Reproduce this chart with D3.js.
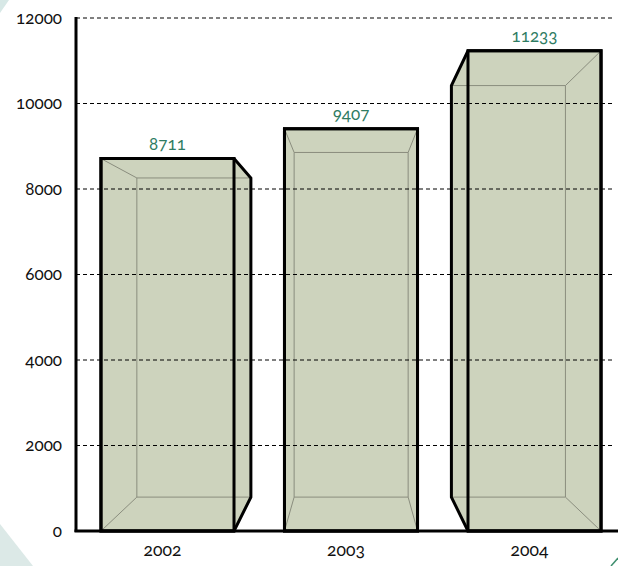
<!DOCTYPE html>
<html><head><meta charset="utf-8">
<script src="https://cdn.jsdelivr.net/npm/d3@7"></script>
<style>
html,body{margin:0;padding:0;background:#fff;}
svg{display:block;}
text{font-family:Lato,"Open Sans",sans-serif;font-variant-numeric:oldstyle-nums;font-feature-settings:"onum" 1;}
</style></head>
<body>
<svg id="chart" width="618" height="566"></svg>
<script>
const categories = ["2002", "2003", "2004"];
const values = [8711, 9407, 11233];
const yTicks = [0, 2000, 4000, 6000, 8000, 10000, 12000];

const W = 618, H = 566;
const svg = d3.select("#chart");

// background decorations
svg.append("polygon").attr("points", "0,0 9,0 0,13").attr("fill", "#d7e8e6");
svg.append("polygon").attr("points", "0,524 33,566 0,566").attr("fill", "#dce9e7");
svg.append("line").attr("x1", 611).attr("y1", 566).attr("x2", 618).attr("y2", 558)
  .attr("stroke", "#3f8f6f").attr("stroke-width", 1.5);

const x0 = 76, x1 = 626, yTop = 18, yBot = 531;
const x = d3.scaleBand().domain(categories).range([x0, x1]).paddingInner(0.275).paddingOuter(0.136);
const y = d3.scaleLinear().domain([0, 12000]).range([yBot, yTop]);

// perspective parameters
const vx = 352, vy = 294, depth = 0.857;
const back = p => [vx + depth * (p[0] - vx), vy + depth * (p[1] - vy)];

const barsG = svg.append("g");
const gridG = svg.append("g");
const outlineG = svg.append("g");

categories.forEach((c, i) => {
  const xl = x(c), xr = x(c) + x.bandwidth();
  const yt = y(values[i]), yb = y(0);
  const F = [[xl, yt], [xr, yt], [xr, yb], [xl, yb]];
  const B = F.map(back);
  const hull = d3.polygonHull(F.concat(B));
  barsG.append("polygon").attr("points", hull.map(p => p.join(",")).join(" "))
    .attr("fill", "#cdd3bd");
  // back face
  barsG.append("polygon").attr("points", B.map(p => p.join(",")).join(" "))
    .attr("fill", "none").attr("stroke", "#8a8d7e").attr("stroke-width", 1);
  F.forEach((p, k) => {
    barsG.append("line").attr("x1", p[0]).attr("y1", p[1]).attr("x2", B[k][0]).attr("y2", B[k][1])
      .attr("stroke", "#8a8d7e").attr("stroke-width", 1);
  });
  outlineG.append("polygon").attr("points", hull.map(p => p.join(",")).join(" "))
    .attr("fill", "none").attr("stroke", "#000").attr("stroke-width", 3).attr("stroke-linejoin", "miter");
  outlineG.append("polygon").attr("points", F.map(p => p.join(",")).join(" "))
    .attr("fill", "none").attr("stroke", "#000").attr("stroke-width", 3);
  outlineG.append("text").attr("x", (xl + xr) / 2).attr("y", yt - 9)
    .attr("text-anchor", "middle").attr("font-size", 17).attr("fill", "#2f7c63").text(values[i]);
  outlineG.append("text").attr("x", (xl + xr) / 2 - 5).attr("y", 556)
    .attr("text-anchor", "middle").attr("font-size", 17.5).attr("fill", "#111").text(c);
});

// gridlines
yTicks.filter(t => t > 0).forEach(t => {
  gridG.append("line").attr("x1", x0).attr("x2", 614).attr("y1", y(t)).attr("y2", y(t))
    .attr("stroke", "#000").attr("stroke-width", 1).attr("stroke-dasharray", "4,3");
});

// y axis
const yAxis = d3.axisLeft(y).tickValues(yTicks).tickSize(0).tickPadding(14).tickFormat(d3.format("d"));
const ag = svg.append("g").attr("transform", `translate(${x0},0)`).call(yAxis);
ag.select(".domain").remove();
ag.selectAll("text").attr("font-size", 17).attr("fill", "#111")
  .style("font-family", "Lato, 'Open Sans', sans-serif");

svg.append("line").attr("x1", x0).attr("x2", x0).attr("y1", yTop - 1).attr("y2", yBot + 1)
  .attr("stroke", "#000").attr("stroke-width", 3);
svg.append("line").attr("x1", x0 - 1.5).attr("x2", W).attr("y1", yBot).attr("y2", yBot)
  .attr("stroke", "#000").attr("stroke-width", 3);
</script>
</body></html>
